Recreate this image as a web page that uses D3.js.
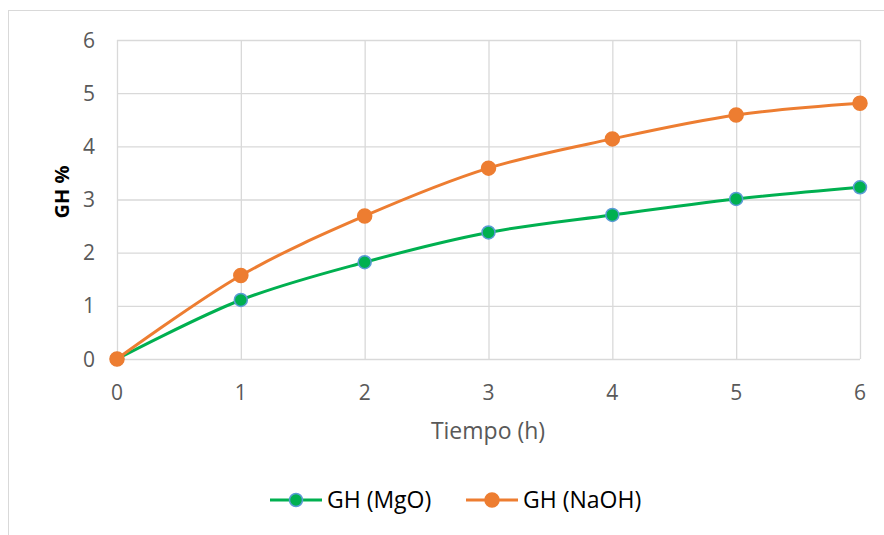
<html>
<head>
<script src="https://cdnjs.cloudflare.com/ajax/libs/d3/7.8.5/d3.min.js"></script>
<style>
  body { margin: 0; background: #fff; }
  text { font-family: "Open Sans", sans-serif; }
</style>
</head>
<body>
<svg width="884" height="535"></svg>
<script>
const hours = [0, 1, 2, 3, 4, 5, 6];
const mgo = [0, 1.11, 1.82, 2.38, 2.71, 3.01, 3.23];
const naoh = [0, 1.57, 2.69, 3.59, 4.14, 4.59, 4.81];
const yTicks = [0, 1, 2, 3, 4, 5, 6];
const seriesNames = ["GH (MgO)", "GH (NaOH)"];

const svg = d3.select("svg");

// outer chart border
svg.append("rect")
  .attr("x", 8.5).attr("y", 10.5)
  .attr("width", 890).attr("height", 540)
  .attr("fill", "none").attr("stroke", "#d9d9d9");

const x = d3.scaleLinear().domain([0, 6]).range([117, 860]);
const y = d3.scaleLinear().domain([0, 6]).range([359, 40]);

// gridlines
svg.append("g").selectAll("line.h")
  .data(yTicks)
  .enter().append("line")
  .attr("x1", x(0)).attr("x2", x(6))
  .attr("y1", d => y(d) + 0.5).attr("y2", d => y(d) + 0.5)
  .attr("stroke", "#d9d9d9").attr("stroke-width", 1.3);

svg.append("g").selectAll("line.v")
  .data(hours)
  .enter().append("line")
  .attr("x1", d => x(d) + 0.5).attr("x2", d => x(d) + 0.5)
  .attr("y1", y(6)).attr("y2", y(0))
  .attr("stroke", "#d9d9d9").attr("stroke-width", 1.3);

// tick labels
svg.append("g").selectAll("text")
  .data(yTicks)
  .enter().append("text")
  .attr("x", 95).attr("y", d => y(d))
  .attr("dy", "0.36em")
  .attr("text-anchor", "end")
  .attr("font-size", 21).attr("fill", "#595959")
  .text(d => d);

svg.append("g").selectAll("text")
  .data(hours)
  .enter().append("text")
  .attr("x", d => x(d)).attr("y", 400)
  .attr("text-anchor", "middle")
  .attr("font-size", 21).attr("fill", "#595959")
  .text(d => d);

// axis titles
svg.append("text")
  .attr("x", 488).attr("y", 439)
  .attr("text-anchor", "middle")
  .attr("font-size", 23).attr("fill", "#595959")
  .text("Tiempo (h)");

svg.append("text")
  .attr("transform", "translate(69,192) rotate(-90)")
  .attr("text-anchor", "middle")
  .attr("font-size", 20).attr("font-weight", "bold").attr("fill", "#000")
  .text("GH %");

const line = d3.line()
  .x(d => x(d[0])).y(d => y(d[1]))
  .curve(d3.curveCatmullRom.alpha(0.5));

const series = [
  { name: seriesNames[0], values: mgo, color: "#00b050", markerStroke: "#5b9bd5", r: 6.5 },
  { name: seriesNames[1], values: naoh, color: "#ed7d31", markerStroke: "#ed7d31", r: 7 }
];

series.forEach(s => {
  const pts = hours.map((h, i) => [h, s.values[i]]);
  svg.append("path")
    .datum(pts)
    .attr("d", line)
    .attr("fill", "none")
    .attr("stroke", s.color)
    .attr("stroke-width", 3);
});

series.forEach(s => {
  const pts = hours.map((h, i) => [h, s.values[i]]);
  svg.append("g").selectAll("circle")
    .data(pts)
    .enter().append("circle")
    .attr("cx", d => x(d[0])).attr("cy", d => y(d[1]))
    .attr("r", s.r)
    .attr("fill", s.color)
    .attr("stroke", s.markerStroke)
    .attr("stroke-width", 1.5);
});

// legend
const legendX = [270, 466];
series.forEach((s, i) => {
  const g = svg.append("g").attr("transform", `translate(${legendX[i]},500)`);
  g.append("line").attr("x1", 0).attr("x2", 52).attr("y1", 0).attr("y2", 0)
    .attr("stroke", s.color).attr("stroke-width", 3);
  g.append("circle").attr("cx", 26).attr("cy", 0).attr("r", s.r)
    .attr("fill", s.color).attr("stroke", s.markerStroke).attr("stroke-width", 1.5);
  g.append("text").attr("x", 57).attr("y", 0).attr("dy", "0.36em")
    .attr("font-size", 23).attr("fill", "#000")
    .text(s.name);
});
</script>
</body>
</html>
